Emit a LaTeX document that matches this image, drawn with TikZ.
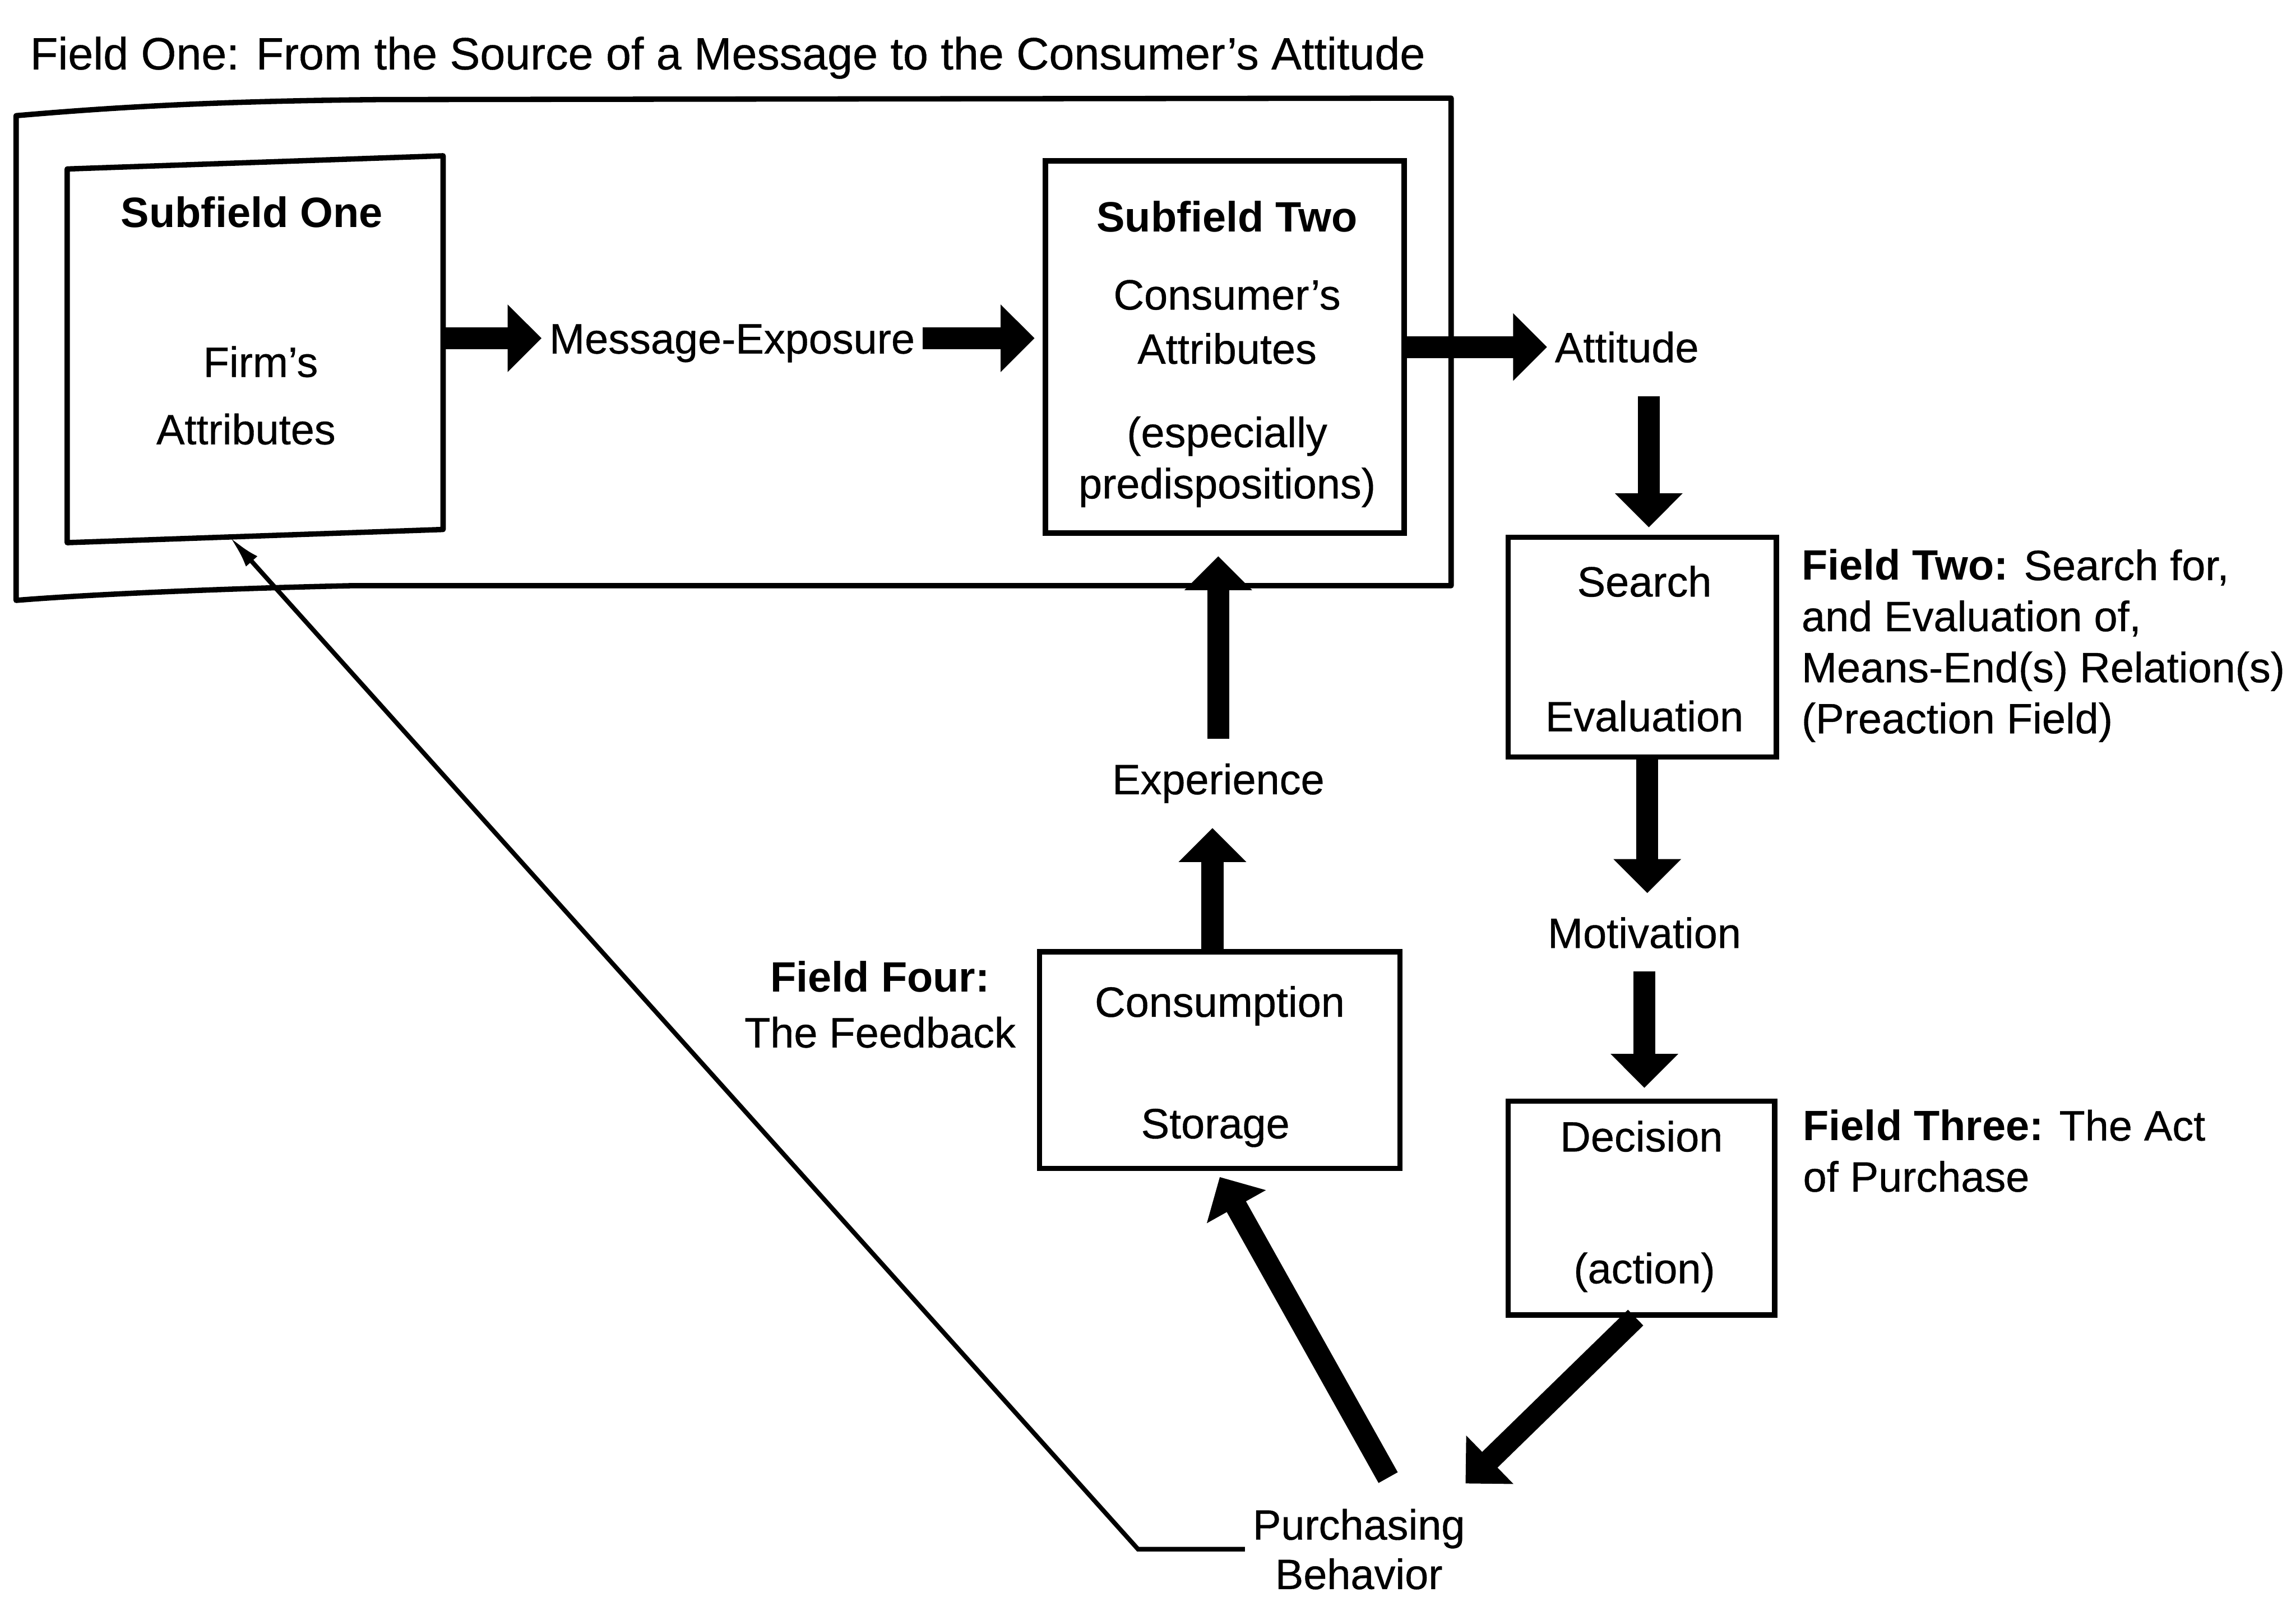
\documentclass[tikz,border=0pt]{standalone}
\usepackage{fontspec}
\setmainfont{Liberation Sans}[UprightFeatures={FakeBold=0.5}]
\usetikzlibrary{arrows.meta,calc}
\begin{document}
\begin{tikzpicture}[x=0.0125cm,y=-0.0125cm,
  txt/.style={font=\fontsize{10.3pt}{12.4pt}\selectfont, inner sep=0.06cm, text height=8pt, text depth=0.6pt},
  bold/.style={font=\fontsize{10.3pt}{12.4pt}\selectfont\bfseries},
  multi/.style={font=\fontsize{10.3pt}{12.4pt}\selectfont, inner sep=0.06cm},
  boxline/.style={line width=1.3pt, line join=round},
  boxnode/.style={rectangle, draw, line width=1.3pt, inner sep=0pt},
  bigarrow/.style={line width=0.1875cm, -{Triangle[length=0.29cm,width=0.56cm]}},
  thinarrow/.style={line width=1.1pt, -{Latex[length=0.28cm,width=0.13cm]}},
]
\useasboundingbox (0,0) rectangle (1568,1093.8);

% title
\node[txt, font=\fontsize{11pt}{13pt}\selectfont] (title) at (497,37) {Field One: From the Source of a Message to the Consumer’s Attitude};

% outer frame (Field One)
\draw[boxline] (11,410) -- (11,79) .. controls (80,73) and (150,69) .. (260,68) -- (991,67) -- (991,400) -- (240,400) .. controls (150,402) and (60,406) .. cycle;

% boxes
\node[minimum width=3.194cm, minimum height=3.175cm, inner sep=0pt] (sub1) at (174.25,238.5) {};
\draw[boxline] ($(sub1.north west)+(0,4.5)$) -- ($(sub1.north east)+(0,-4.5)$) -- ($(sub1.south east)+(0,-4.5)$) -- ($(sub1.south west)+(0,4.5)$) -- cycle;
\node[boxnode, minimum width=3.0625cm, minimum height=3.175cm] (sub2) at (836.5,237) {};
\node[boxnode, minimum width=2.2875cm, minimum height=1.875cm] (search) at (1121.5,442) {};
\node[boxnode, minimum width=2.275cm, minimum height=1.825cm] (dec) at (1121,825) {};
\node[boxnode, minimum width=3.075cm, minimum height=1.85cm] (cons) at (833,724) {};

% texts
\node[txt,bold] (s1t) at (172,145) {Subfield One};
\node[txt] (s1a) at (178,247) {Firm’s};
\node[txt] (s1b) at (168,293) {Attributes};
\node[txt] (msg) at (500,231) {Message-Exposure};
\node[txt,bold] (s2t) at (838,148) {Subfield Two};
\node[txt] (s2a) at (838,201) {Consumer’s};
\node[txt] (s2b) at (838,238) {Attributes};
\node[txt] (s2c) at (838,295) {(especially};
\node[txt] (s2d) at (838,330) {predispositions)};
\node[txt] (att) at (1111,237) {Attitude};
\node[txt] (srch) at (1123,397) {Search};
\node[txt] (eval) at (1123,489) {Evaluation};
\node[multi, align=left, anchor=west] (f2) at (1225,441) {\textbf{Field Two:} Search for,\\and Evaluation of,\\Means-End(s) Relation(s)\\(Preaction Field)};
\node[txt] (motiv) at (1123,637) {Motivation};
\node[txt] (decT) at (1121,776) {Decision};
\node[txt] (act) at (1123,866) {(action)};
\node[multi, align=left, anchor=west] (f3) at (1226,786) {\textbf{Field Three:} The Act\\of Purchase};
\node[txt] (consT) at (833,684) {Consumption};
\node[txt] (stor) at (830,767) {Storage};
\node[multi, align=center, font=\fontsize{10.3pt}{13.5pt}\selectfont] (f4) at (601,686) {\textbf{Field Four:}\\The Feedback};
\node[txt] (exper) at (832,532) {Experience};
\node[multi, align=center, font=\fontsize{10.3pt}{12pt}\selectfont] (purch) at (928,1058) {Purchasing\\Behavior};

% thick arrows
\draw[bigarrow] (sub1.east |- msg.west) -- (msg.west);
\draw[bigarrow, shorten >=0.07cm] (msg.east) -- (sub2.west |- msg.east);
\draw[bigarrow] (sub2.east |- att.west) -- (att.west);
\draw[bigarrow] ($(att.south -| search.north)+(4.5,16)$) -- ($(search.north)+(4.5,-5)$);
\draw[bigarrow, shorten >=0.12cm] ($(search.south)+(3.5,0)$) -- ($(search.south |- motiv.north)+(3.5,0)$);
\draw[bigarrow, shorten <=0.11cm, shorten >=0.09cm] (motiv.south) -- (motiv.south |- dec.north);
\draw[bigarrow] ($(dec.south)+(-4,0)$) -- ($(purch.north east)+(-5,-12)$);
\draw[bigarrow] ($(purch.north)+(20,-16)$) -- ($(cons.south)+(0,4)$);
\draw[bigarrow, shorten >=0.2cm] ($(cons.north)+(-5,0)$) -- ($(cons.north |- exper.south)+(-5,0)$);
\draw[bigarrow, shorten <=0.125cm, shorten >=0.175cm] (exper.north) -- (exper.north |- sub2.south);

% thin feedback connector
\draw[thinarrow] (purch.west) -- ++(-73,0) -- ($(sub1.south west)!0.4325!(sub1.south east)+(0,0.6)$);
\end{tikzpicture}
\end{document}
